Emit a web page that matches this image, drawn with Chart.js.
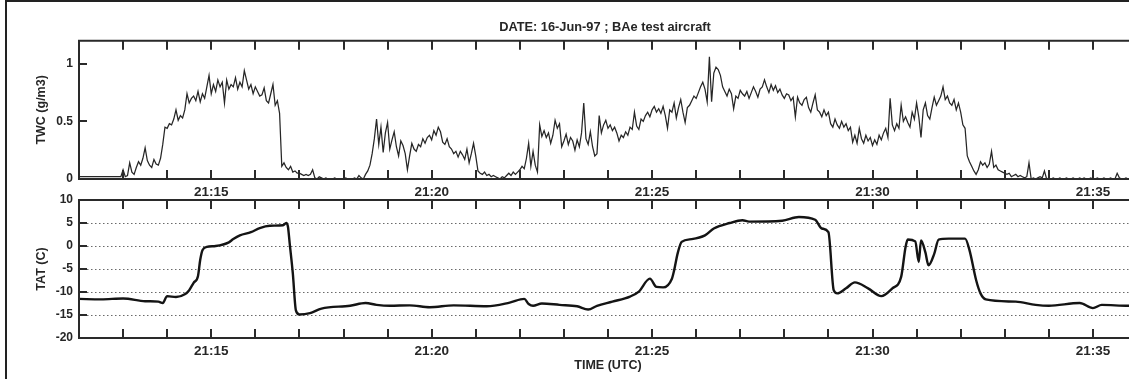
<!DOCTYPE html>
<html>
<head>
<meta charset="utf-8">
<title>TWC / TAT - 16-Jun-97</title>
<script src="https://cdn.jsdelivr.net/npm/chart.js@4.4.1/dist/chart.umd.min.js"></script>
<style>
  html, body { margin: 0; padding: 0; background: #fff; overflow: hidden; }
  #wrap { position: relative; width: 1129px; height: 379px; overflow: hidden; background: #fff; }
  #frame { position: absolute; left: 5px; top: 0; width: 1300px; height: 500px;
           border-left: 2px solid #222; border-top: 2px solid #222; }
  canvas { position: absolute; left: 0; top: 0; }
</style>
</head>
<body>
<div id="wrap">
  <div id="frame"></div>
  <canvas id="twcChart" width="1210" height="200"></canvas>
  <canvas id="tatChart" width="1210" height="379"></canvas>
</div>
<script>
// minutes after 21:00 on the time axis
const timeMin = 12;
const timeMax = 36;
const timeTicks = [15, 20, 25, 30, 35];

// TWC (g/m3), one reading every 0.05 min starting 21:12
const twcStart = 12;
const twcStep = 0.05;
const twcValues = [
  0.02,0.02,0.02,0.02,0.02,0.02,0.02,0.02,0.02,0.02,0.02,0.02,0.02,0.02,0.02,0.02,0.02,0.02,0.02,0.02,
  0.08,0.02,0.03,0.14,0.06,0.04,0.10,0.15,0.12,0.18,0.27,0.16,0.12,0.10,0.17,0.13,0.12,0.18,0.30,0.45,
  0.44,0.48,0.47,0.52,0.60,0.51,0.55,0.53,0.60,0.74,0.66,0.70,0.72,0.68,0.76,0.67,0.74,0.70,0.80,0.90,
  0.74,0.82,0.76,0.86,0.80,0.84,0.66,0.86,0.78,0.82,0.80,0.88,0.78,0.84,0.80,0.94,0.86,0.78,0.82,0.74,
  0.80,0.76,0.72,0.73,0.79,0.68,0.66,0.74,0.82,0.64,0.68,0.57,0.11,0.14,0.10,0.08,0.11,0.06,0.07,0.05,
  0.05,0.04,0.03,0.04,0.03,0.04,0.08,0.01,0.00,0.02,0.01,0.00,0.01,0.00,0.00,0.00,0.01,0.00,0.00,0.00,
  0.00,0.01,0.00,0.00,0.00,0.01,0.00,0.03,0.01,0.00,0.04,0.07,0.12,0.22,0.35,0.52,0.30,0.45,0.23,0.40,
  0.49,0.26,0.34,0.41,0.28,0.20,0.33,0.29,0.22,0.08,0.20,0.31,0.26,0.24,0.30,0.28,0.35,0.31,0.36,0.38,
  0.34,0.42,0.38,0.45,0.41,0.32,0.30,0.35,0.28,0.26,0.22,0.24,0.19,0.24,0.21,0.17,0.26,0.14,0.22,0.31,
  0.20,0.07,0.05,0.04,0.06,0.03,0.04,0.02,0.03,0.02,0.01,0.00,0.02,0.01,0.03,0.05,0.03,0.06,0.04,0.06,
  0.08,0.11,0.09,0.18,0.31,0.11,0.24,0.12,0.06,0.47,0.37,0.42,0.36,0.40,0.31,0.38,0.51,0.44,0.48,0.28,
  0.33,0.39,0.30,0.36,0.33,0.25,0.34,0.28,0.40,0.66,0.35,0.30,0.41,0.28,0.20,0.22,0.55,0.40,0.47,0.51,
  0.44,0.47,0.42,0.45,0.40,0.33,0.38,0.36,0.41,0.38,0.45,0.43,0.58,0.46,0.43,0.52,0.50,0.55,0.58,0.54,
  0.60,0.63,0.58,0.61,0.57,0.63,0.55,0.44,0.60,0.58,0.66,0.53,0.62,0.69,0.58,0.49,0.62,0.64,0.68,0.72,
  0.70,0.75,0.80,0.84,0.78,0.67,1.06,0.67,0.92,0.97,0.95,0.90,0.80,0.76,0.72,0.78,0.74,0.61,0.72,0.70,
  0.77,0.74,0.72,0.76,0.70,0.75,0.80,0.76,0.71,0.78,0.80,0.86,0.80,0.75,0.82,0.77,0.81,0.75,0.78,0.73,
  0.70,0.74,0.73,0.68,0.71,0.54,0.71,0.66,0.64,0.69,0.71,0.62,0.58,0.66,0.73,0.60,0.58,0.54,0.60,0.55,
  0.58,0.48,0.45,0.52,0.47,0.44,0.50,0.45,0.48,0.42,0.45,0.32,0.38,0.31,0.44,0.35,0.31,0.38,0.33,0.36,
  0.29,0.34,0.30,0.38,0.34,0.40,0.44,0.36,0.70,0.47,0.42,0.48,0.44,0.64,0.50,0.54,0.49,0.45,0.58,0.52,
  0.66,0.54,0.36,0.60,0.66,0.55,0.52,0.62,0.71,0.64,0.68,0.72,0.80,0.69,0.72,0.66,0.64,0.69,0.60,0.66,
  0.58,0.47,0.44,0.20,0.15,0.11,0.07,0.04,0.08,0.15,0.12,0.14,0.10,0.13,0.24,0.10,0.12,0.08,0.07,0.06,
  0.05,0.04,0.05,0.02,0.03,0.04,0.02,0.03,0.02,0.01,0.02,0.14,0.00,0.01,0.00,0.01,0.02,0.01,0.07,0.00,
  0.01,0.00,0.01,0.00,0.00,0.01,0.00,0.00,0.01,0.00,0.00,0.01,0.00,0.00,0.01,0.00,0.01,0.00,0.00,0.01,
  0.00,0.00,0.01,0.00,0.00,0.01,0.00,0.00,0.01,0.00,0.00,0.05,0.01,0.00,0.00,0.01,0.00,0.00,0.01,0.00,
  0.00
];
const twcTicks = [0, 0.5, 1];

// TAT (C)
const tatMinutes = [
  12.0, 12.5, 13.0, 13.5, 13.8, 13.9, 14.0, 14.2, 14.4, 14.5,
  14.6, 14.7, 14.75, 14.8, 14.9, 15.1, 15.4, 15.5, 15.65, 15.9,
  16.1, 16.33, 16.63, 16.7, 16.74, 16.78, 16.85, 16.92, 17.0, 17.24,
  17.5, 18.15, 18.5, 18.75, 19.05, 19.5, 19.96, 20.5, 21.25, 21.77,
  22.1, 22.2, 22.3, 22.5, 22.9, 23.3, 23.55, 23.75, 24.1, 24.5,
  24.7, 24.95, 25.1, 25.25, 25.45, 25.5, 25.58, 25.67, 25.9, 26.2,
  26.4, 26.76, 27.05, 27.2, 27.95, 28.33, 28.7, 28.85, 29.0, 29.12,
  29.2, 29.4, 29.6, 29.9, 30.2, 30.45, 30.65, 30.75, 30.8, 30.97,
  31.05, 31.1, 31.2, 31.27, 31.4, 31.5, 31.73, 32.1, 32.2, 32.35,
  32.45, 32.57, 33.25, 33.7, 34.0, 34.7, 35.0, 35.2, 35.8, 36.0
];
const tatValues = [
  -11.5, -11.6, -11.4, -12.0, -12.1, -12.4, -10.9, -11.1, -10.5, -9.6,
  -8.0, -6.5, -3.0, -0.9, -0.2, 0.0, 0.8, 1.5, 2.3, 3.0,
  3.9, 4.4, 4.5, 5.0, 4.2, 0.5, -5.9, -14.0, -14.9, -14.6,
  -13.6, -13.0, -12.4, -12.8, -13.0, -12.9, -13.3, -12.9, -13.1, -12.3,
  -11.5, -12.6, -13.0, -12.5, -12.8, -13.1, -13.8, -13.0, -12.1, -11.0,
  -9.9, -7.1, -8.9, -9.0, -7.1, -5.3, -1.6, 0.9, 1.5, 2.3,
  3.8, 5.0, 5.6, 5.3, 5.5, 6.3, 5.7, 3.8, 3.0, -9.6,
  -10.3, -9.2, -7.9, -9.2, -10.9, -9.2, -6.7, -0.2, 1.4, 1.0,
  -3.5, 1.2, -1.4, -4.2, -1.7, 1.4, 1.6, 1.6, -0.9, -7.4,
  -10.3, -11.6, -12.1, -12.8, -13.0, -12.4, -13.5, -12.8, -13.0, -13.0
];
const tatTicks = [-20, -15, -10, -5, 0, 5, 10];

const FONT = "'Liberation Sans', Arial, sans-serif";
const INK = '#262626';

// box round the plot area + inward tick marks on all four sides
const frameTicks = {
  id: 'frameTicks',
  afterDatasetsDraw(chart) {
    const { ctx, chartArea: a } = chart;
    const x = chart.scales.x, y = chart.scales.y;
    ctx.save();
    ctx.strokeStyle = '#2a2a2a';
    ctx.lineWidth = 2;
    ctx.strokeRect(a.left, a.top, a.right - a.left, a.bottom - a.top);
    ctx.beginPath();
    x.ticks.forEach(t => {
      if (t.value <= x.min || t.value >= x.max) return;
      const px = Math.round(x.getPixelForValue(t.value));
      ctx.moveTo(px, a.top); ctx.lineTo(px, a.top + 9);
      ctx.moveTo(px, a.bottom); ctx.lineTo(px, a.bottom - 9);
    });
    y.ticks.forEach(t => {
      if (t.value <= y.min || t.value >= y.max) return;
      const py = Math.round(y.getPixelForValue(t.value));
      ctx.moveTo(a.left, py); ctx.lineTo(a.left + 8, py);
      ctx.moveTo(a.right, py); ctx.lineTo(a.right - 8, py);
    });
    ctx.stroke();
    ctx.restore();
  }
};

function timeAxis(height, withTitle) {
  return {
    type: 'linear', position: 'bottom', min: timeMin, max: timeMax,
    grid: { display: false, drawTicks: false },
    border: { display: false },
    ticks: {
      stepSize: 1, autoSkip: false, maxRotation: 0, padding: 5, color: INK,
      font: { family: FONT, size: 13.5, weight: 'bold' },
      callback: v => timeTicks.includes(v) ? '21:' + v : ''
    },
    title: {
      display: withTitle, text: 'TIME (UTC)', color: INK,
      font: { family: FONT, size: 12.5, weight: 'bold', lineHeight: 1.2 },
      padding: { top: 0, bottom: 6 }
    },
    afterFit: s => { s.height = height; }
  };
}

function valueAxis(ticks, min, max, label, gridOn) {
  return {
    type: 'linear', position: 'left', min: min, max: max,
    afterBuildTicks: s => { s.ticks = ticks.map(value => ({ value })); },
    grid: { display: gridOn, drawTicks: false, color: '#6a6a6a', lineWidth: 1, borderDash: [1.5, 2.5] },
    border: { display: false, dash: [1.5, 2.5] },
    ticks: { padding: 6, color: INK, font: { family: FONT, size: 12, weight: 'bold' }, callback: v => String(v) },
    title: {
      display: true, text: label, color: INK,
      font: { family: FONT, size: 12.5, weight: 'bold', lineHeight: 1.2 },
      padding: { top: 34, bottom: 0 }
    },
    afterFit: s => { s.width = 79; }
  };
}

new Chart(document.getElementById('twcChart'), {
  type: 'line',
  data: {
    datasets: [{
      data: twcValues.map((v, i) => ({ x: twcStart + i * twcStep, y: v })),
      borderColor: '#262626', borderWidth: 1.25, pointRadius: 0, tension: 0
    }]
  },
  options: {
    responsive: false, animation: false, events: [],
    layout: { padding: 0 },
    plugins: {
      legend: { display: false }, tooltip: { enabled: false },
      title: {
        display: true, text: 'DATE: 16-Jun-97 ; BAe test aircraft', color: INK,
        font: { family: FONT, size: 12.8, weight: 'bold', lineHeight: 1.2 },
        padding: { top: 19.4, bottom: 6 }
      }
    },
    scales: {
      x: timeAxis(21, false),
      y: valueAxis(twcTicks, 0, 1.2, 'TWC (g/m3)', false),
      // empty right-hand axis only keeps the title centred on the plot
      yRight: {
        type: 'linear', axis: 'y', position: 'right', display: true,
        grid: { display: false, drawTicks: false }, border: { display: false },
        ticks: { display: false },
        afterFit: s => { s.width = 73; }
      }
    }
  },
  plugins: [frameTicks]
});

new Chart(document.getElementById('tatChart'), {
  type: 'line',
  data: {
    datasets: [{
      data: tatMinutes.map((m, i) => ({ x: m, y: tatValues[i] })),
      borderColor: '#141414', borderWidth: 2.4, pointRadius: 0,
      cubicInterpolationMode: 'monotone'
    }]
  },
  options: {
    responsive: false, animation: false, events: [],
    layout: { padding: { top: 200, right: 73, left: 0, bottom: 0 } },
    plugins: { legend: { display: false }, tooltip: { enabled: false } },
    scales: {
      x: timeAxis(41, true),
      y: valueAxis(tatTicks, -20, 10, 'TAT (C)', true)
    }
  },
  plugins: [frameTicks]
});
</script>
</body>
</html>
